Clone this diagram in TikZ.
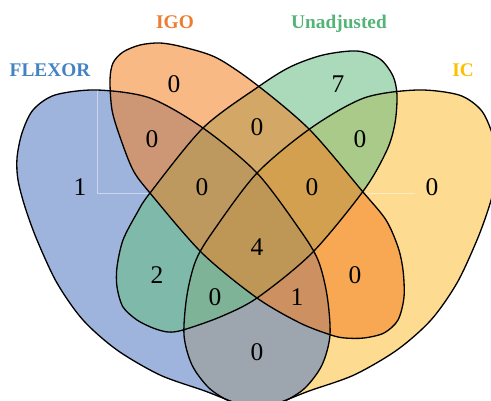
\documentclass[tikz,border=0pt]{standalone}
\usepackage{fontspec}
\setmainfont{Liberation Serif}
\usepackage{tikz}
\usetikzlibrary{positioning}

\definecolor{flexorblue}{RGB}{93,130,197}
\definecolor{igoorange}{RGB}{244,127,33}
\definecolor{unadjgreen}{RGB}{104,189,132}
\definecolor{icyellow}{RGB}{251,190,55}
\definecolor{flexortext}{RGB}{68,130,196}
\definecolor{igotext}{RGB}{237,125,49}
\definecolor{unadjtext}{RGB}{84,180,120}
\definecolor{ictext}{RGB}{255,190,0}

% set outlines, traced in pixel units
\newcommand{\flexorpath}{plot[smooth cycle] coordinates {(97,90) (150,98) (203,128) (257,173) (300,230) (318,260) (327,295) (330,335) (322,365) (305,388) (283,402) (258,410) (233,402) (205,391) (160,375) (117,350) (83,320) (57,283) (37,240) (25,207) (18,180) (17,158) (22,133) (33,110) (55,95)}}
\newcommand{\icpath}{plot[smooth cycle] coordinates {(417,90) (364,98) (311,128) (257,173) (214,230) (196,260) (187,295) (184,335) (192,365) (209,388) (231,402) (256,410) (281,402) (309,391) (354,375) (397,350) (431,320) (457,283) (477,240) (489,207) (496,180) (497,158) (492,133) (481,110) (459,95)}}
\newcommand{\igopath}{plot[smooth cycle] coordinates {(110,80) (113,63) (123,52) (140,45) (160,43) (183,47) (217,58) (257,85) (310,130) (363,192) (386,220) (398,247) (403,270) (404,297) (398,320) (384,333) (364,338) (345,338) (331,335) (300,323) (257,298) (202,253) (150,193) (133,170) (120,137) (112,110)}}
\newcommand{\unadjpath}{plot[smooth cycle] coordinates {(258,87) (290,67) (323,55) (357,51) (380,59) (393,76) (397,95) (395,123) (387,150) (364,190) (312,253) (257,298) (220,317) (183,330) (168,332) (153,328) (137,320) (123,307) (117,287) (117,267) (123,240) (137,213) (150,193) (203,128)}}

\tikzset{
  setline/.style={draw=black, line width=0.75pt},
  setlabel/.style={font=\bfseries\fontsize{11}{13}\selectfont, anchor=base},
  count/.style={font=\fontsize{14.5}{16}\selectfont, anchor=base},
  guide/.style={draw=white, draw opacity=0.45, line width=0.5pt}
}

\begin{document}
\begin{tikzpicture}[x=0.02cm, y=-0.02cm]
  \useasboundingbox (0,0) rectangle (491,400);
  \clip (0,0) rectangle (491,400);

  % fills first, then outlines
  \fill[icyellow, fill opacity=0.55] \icpath;
  \fill[flexorblue, fill opacity=0.6] \flexorpath;
  \fill[unadjgreen, fill opacity=0.56] \unadjpath;
  \fill[igoorange, fill opacity=0.55] \igopath;

  \draw[guide] (97,90) -- (97,193) -- (148,193);
  \draw[guide] (366,193) -- (415,193);

  \draw[setline] \icpath;
  \draw[setline] \flexorpath;
  \draw[setline] \unadjpath;
  \draw[setline] \igopath;

  % set names
  \node[setlabel, text=flexortext] (flexor) at (50,76) {FLEXOR};
  \node[setlabel, text=igotext] (igo) at (175,28) {IGO};
  \node[setlabel, text=unadjtext] (unadj) at (339,28) {Unadjusted};
  \node[setlabel, text=ictext] (ic) at (463,76) {IC};

  % counts
  \node[count] (nA) at (80,195) {1};
  \node[count] (nB) at (174,92) {0};
  \node[count] (nC) at (338,92) {7};
  \node[count] (nD) at (432,195) {0};
  \node[count] (nAB) at (152,147) {0};
  \node[count] (nBC) at (257,135) {0};
  \node[count] (nCD) at (360,147) {0};
  \node[count] (nABC) at (202,195) {0};
  \node[count] (nBCD) at (312,195) {0};
  \node[count] (nABCD) at (257,255) {4};
  \node[count] (nAC) at (157,283) {2};
  \node[count] (nBD) at (355,283) {0};
  \node[count] (nACD) at (215,305) {0};
  \node[count] (nABD) at (297,305) {1};
  \node[count] (nAD) at (257,360) {0};
\end{tikzpicture}
\end{document}
